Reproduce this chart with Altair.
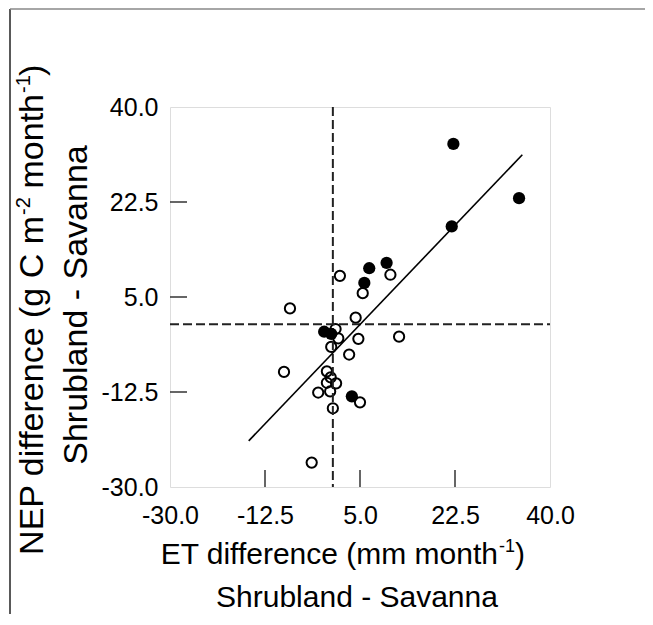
import altair as alt
import pandas as pd

# Filled circles (one group)
filled_et = [22.2, 34.3, 21.9, 6.7, 9.9, 5.8, -1.6, -0.3, 3.5]
filled_nep = [33.2, 23.2, 18.0, 10.3, 11.3, 7.6, -1.4, -1.8, -13.3]

# Open circles (other group)
open_et = [1.3, 10.6, 5.5, -7.9, 4.2, 12.2, 0.5, 4.7, 1.0, -0.3, 3.0, -9.0,
           -1.1, -0.4, -1.1, 0.6, -2.7, -0.5, 5.0, 0.0, -3.9]
open_nep = [8.9, 9.1, 5.7, 2.9, 1.2, -2.3, -0.9, -2.7, -2.6, -4.2, -5.6, -8.8,
            -8.7, -9.8, -10.8, -10.9, -12.6, -12.4, -14.4, -15.5, -25.5]

# Regression line end points
fit_et = [-15.5, 34.9]
fit_nep = [-21.5, 31.2]

tick_values = [-30.0, -12.5, 5.0, 22.5, 40.0]
inner_ticks = [-12.5, 5.0, 22.5]

# Axis title pieces (superscripts drawn as smaller raised text)
x_title_main = "ET difference (mm month"
x_title_sup = "-1"
x_title_end = ")"
x_title_line2 = "Shrubland - Savanna"
y_title_a = "NEP difference (g C m"
y_title_sup1 = "-2"
y_title_b = "month"
y_title_sup2 = "-1"
y_title_end = ")"
y_title_line2 = "Shrubland - Savanna"

W, H = 380, 380
OX, OY = 170, 107  # page position of plot origin (for title placement)
FONT = "Liberation Sans"

xs = alt.Scale(domain=[-30, 40], nice=False, zero=False)
ys = alt.Scale(domain=[-30, 40], nice=False, zero=False)

df_f = pd.DataFrame({"et": filled_et, "nep": filled_nep})
df_o = pd.DataFrame({"et": open_et, "nep": open_nep})
df_fit = pd.DataFrame({"et": fit_et, "nep": fit_nep})
df_ticks = pd.DataFrame({"v": inner_ticks})
df_one = pd.DataFrame({"v": [0.0]})

label_expr = "replace(format(datum.value, '.1f'), '\u2212', '-')"

x_axis = alt.Axis(values=tick_values, labelExpr=label_expr, ticks=False, grid=False,
                  domain=False, labelFontSize=25, labelPadding=16, labelFlush=False,
                  labelFont=FONT, labelColor="black", title=None)
y_axis = alt.Axis(values=tick_values, labelExpr=label_expr, ticks=False, grid=False,
                  domain=False, labelFontSize=25, labelPadding=12, labelFlush=False,
                  labelFont=FONT, labelColor="black", title=None)

points_o = alt.Chart(df_o).mark_point(shape="circle", filled=False, size=105,
                                       strokeWidth=2, color="black", opacity=1).encode(
    x=alt.X("et:Q", scale=xs, axis=x_axis), y=alt.Y("nep:Q", scale=ys, axis=y_axis))
points_f = alt.Chart(df_f).mark_point(shape="circle", filled=True, size=150,
                                       color="black", opacity=1).encode(
    x=alt.X("et:Q", scale=xs), y=alt.Y("nep:Q", scale=ys))
fit = alt.Chart(df_fit).mark_line(color="black", strokeWidth=1.6).encode(
    x=alt.X("et:Q", scale=xs), y=alt.Y("nep:Q", scale=ys))

vzero = alt.Chart(df_one).mark_rule(color="#222", strokeWidth=2, strokeDash=[9, 4]).encode(
    x=alt.X("v:Q", scale=xs), y=alt.value(0), y2=alt.value(H))
hzero = alt.Chart(df_one).mark_rule(color="#222", strokeWidth=2, strokeDash=[9, 4]).encode(
    y=alt.Y("v:Q", scale=ys), x=alt.value(0), x2=alt.value(W))

xticks = alt.Chart(df_ticks).mark_rule(color="#333", strokeWidth=1.5).encode(
    x=alt.X("v:Q", scale=xs), y=alt.value(H), y2=alt.value(H - 17))
yticks = alt.Chart(df_ticks).mark_rule(color="#333", strokeWidth=1.5).encode(
    y=alt.Y("v:Q", scale=ys), x=alt.value(0), x2=alt.value(17))


def txt(text, px, py, size, align="left", angle=0):
    return alt.Chart(df_one).mark_text(
        text=text, font=FONT, fontSize=size, align=align, baseline="alphabetic",
        angle=angle, color="black").encode(x=alt.value(px - OX), y=alt.value(py - OY))


# x title (page coordinates)
XF, XS = 30, 18
x_main_end = 498
x_base = 564
x_layers = [
    txt(x_title_main, x_main_end, x_base, XF, align="right"),
    txt(x_title_sup, x_main_end + 1, x_base - 12, XS, align="left"),
    txt(x_title_end, x_main_end + 17, x_base, XF, align="left"),
    txt(x_title_line2, 357, 607, XF, align="center"),
]

# y title (rotated, reads bottom to top)
YF, YS = 34, 20
y_base_x = 43
y_a_end = 216
sup_len = 18          # length of a superscript "-2"/"-1"
space_len = 9.5       # a space at the main size
month_len = 94.5      # "month" at the main size
y_b_start = y_a_end - sup_len - space_len
y_sup2_start = y_b_start - month_len
y_end_start = y_sup2_start - sup_len
y_layers = [
    txt(y_title_a, y_base_x, y_a_end, YF, align="right", angle=270),
    txt(y_title_sup1, y_base_x - 13, y_a_end - 1, YS, align="left", angle=270),
    txt(y_title_b, y_base_x, y_b_start, YF, align="left", angle=270),
    txt(y_title_sup2, y_base_x - 13, y_sup2_start - 1, YS, align="left", angle=270),
    txt(y_title_end, y_base_x, y_end_start, YF, align="left", angle=270),
    txt(y_title_line2, 87, 305, YF, align="center", angle=270),
]

# outer picture border (left and top)
border_left = alt.Chart(df_one).mark_rule(color="#222", strokeWidth=1.5).encode(
    x=alt.value(-160), y=alt.value(-98), y2=alt.value(H + 127))
border_top = alt.Chart(df_one).mark_rule(color="#888", strokeWidth=1.5).encode(
    y=alt.value(-98), x=alt.value(-160), x2=alt.value(W + 110))

chart = alt.layer(points_o, vzero, hzero, xticks, yticks, fit, points_f,
                  border_left, border_top, *x_layers, *y_layers).properties(
    width=W, height=H,
    autosize=alt.AutoSizeParams(type="none"),
    padding={"left": 162, "top": 99, "right": 95, "bottom": 128},
).configure_view(stroke="#333", strokeWidth=2).configure(background="white")

chart.save("out.html", embed_options={"renderer": "svg", "actions": False})
